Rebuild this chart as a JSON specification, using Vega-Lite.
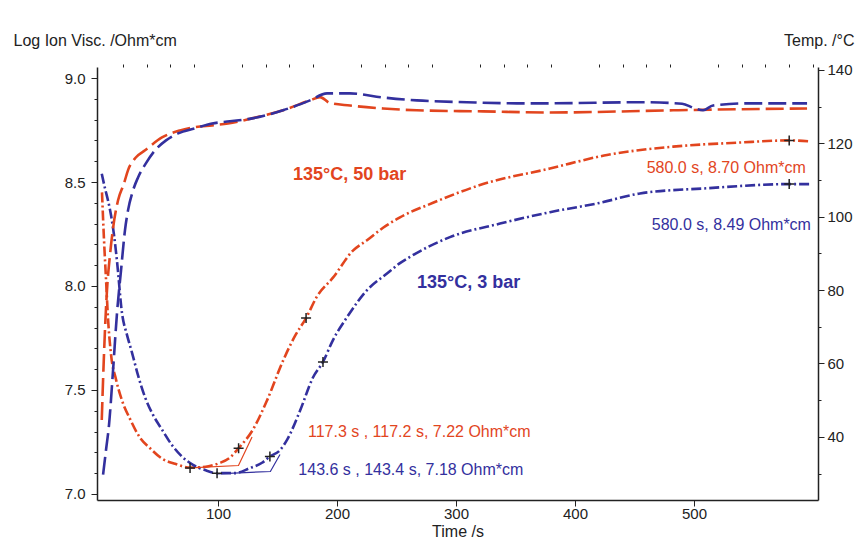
{
  "$schema": "https://vega.github.io/schema/vega-lite/v6.json",
  "width": 721,
  "height": 433,
  "autosize": "none",
  "padding": {"left": 97, "top": 67, "right": 46, "bottom": 47},
  "background": "white",
  "config": {
    "view": {"stroke": null},
    "font": "Liberation Sans",
    "axis": {
      "labelFont": "Liberation Sans", "labelFontSize": 15, "labelColor": "#222",
      "titleFont": "Liberation Sans", "titleFontSize": 16, "titleFontWeight": "normal", "titleColor": "#222",
      "domainColor": "#222", "domainWidth": 1.5, "tickColor": "#222", "tickWidth": 1, "grid": false
    }
  },
  "datasets": {
    "ion": [
      {"s": "50 bar", "t": 2.5, "v": 8.45}, {"s": "50 bar", "t": 4.2, "v": 8.22}, {"s": "50 bar", "t": 5.9, "v": 8.03},
      {"s": "50 bar", "t": 7.6, "v": 7.84}, {"s": "50 bar", "t": 10.1, "v": 7.67}, {"s": "50 bar", "t": 14.3, "v": 7.55},
      {"s": "50 bar", "t": 19.3, "v": 7.45}, {"s": "50 bar", "t": 26.1, "v": 7.36}, {"s": "50 bar", "t": 34.5, "v": 7.27},
      {"s": "50 bar", "t": 42.9, "v": 7.22}, {"s": "50 bar", "t": 52.9, "v": 7.17}, {"s": "50 bar", "t": 63.9, "v": 7.145},
      {"s": "50 bar", "t": 76.5, "v": 7.127}, {"s": "50 bar", "t": 84, "v": 7.128}, {"s": "50 bar", "t": 92, "v": 7.133},
      {"s": "50 bar", "t": 101, "v": 7.148}, {"s": "50 bar", "t": 110, "v": 7.175}, {"s": "50 bar", "t": 117.3, "v": 7.22},
      {"s": "50 bar", "t": 129.4, "v": 7.31}, {"s": "50 bar", "t": 141.2, "v": 7.45}, {"s": "50 bar", "t": 154.6, "v": 7.64},
      {"s": "50 bar", "t": 164.7, "v": 7.76}, {"s": "50 bar", "t": 174, "v": 7.846}, {"s": "50 bar", "t": 183.2, "v": 7.95},
      {"s": "50 bar", "t": 196.6, "v": 8.04}, {"s": "50 bar", "t": 213.4, "v": 8.17}, {"s": "50 bar", "t": 225.2, "v": 8.22},
      {"s": "50 bar", "t": 238.7, "v": 8.28}, {"s": "50 bar", "t": 252.9, "v": 8.33}, {"s": "50 bar", "t": 280.7, "v": 8.40},
      {"s": "50 bar", "t": 322.7, "v": 8.49}, {"s": "50 bar", "t": 379, "v": 8.565}, {"s": "50 bar", "t": 426.9, "v": 8.63},
      {"s": "50 bar", "t": 482.4, "v": 8.67}, {"s": "50 bar", "t": 538.7, "v": 8.69}, {"s": "50 bar", "t": 580, "v": 8.70},
      {"s": "50 bar", "t": 597.5, "v": 8.695},
      {"s": "3 bar", "t": 2.3, "v": 8.54}, {"s": "3 bar", "t": 5, "v": 8.47}, {"s": "3 bar", "t": 7.6, "v": 8.41},
      {"s": "3 bar", "t": 10.1, "v": 8.34}, {"s": "3 bar", "t": 12.6, "v": 8.245}, {"s": "3 bar", "t": 15.1, "v": 8.12},
      {"s": "3 bar", "t": 19.3, "v": 7.87}, {"s": "3 bar", "t": 23.5, "v": 7.765}, {"s": "3 bar", "t": 27.7, "v": 7.68},
      {"s": "3 bar", "t": 32.8, "v": 7.57}, {"s": "3 bar", "t": 38.7, "v": 7.465}, {"s": "3 bar", "t": 45.4, "v": 7.38},
      {"s": "3 bar", "t": 52.9, "v": 7.31}, {"s": "3 bar", "t": 61.3, "v": 7.235}, {"s": "3 bar", "t": 69.7, "v": 7.18},
      {"s": "3 bar", "t": 79, "v": 7.14}, {"s": "3 bar", "t": 89, "v": 7.115}, {"s": "3 bar", "t": 99.2, "v": 7.10},
      {"s": "3 bar", "t": 114.3, "v": 7.10}, {"s": "3 bar", "t": 126.9, "v": 7.125}, {"s": "3 bar", "t": 137, "v": 7.15},
      {"s": "3 bar", "t": 143.6, "v": 7.18}, {"s": "3 bar", "t": 152, "v": 7.21}, {"s": "3 bar", "t": 158, "v": 7.26},
      {"s": "3 bar", "t": 168.9, "v": 7.40}, {"s": "3 bar", "t": 179.8, "v": 7.56}, {"s": "3 bar", "t": 188.2, "v": 7.635},
      {"s": "3 bar", "t": 196.6, "v": 7.74}, {"s": "3 bar", "t": 208.4, "v": 7.85}, {"s": "3 bar", "t": 225.2, "v": 7.98},
      {"s": "3 bar", "t": 242, "v": 8.06}, {"s": "3 bar", "t": 252.9, "v": 8.11}, {"s": "3 bar", "t": 261.3, "v": 8.14},
      {"s": "3 bar", "t": 294.9, "v": 8.235}, {"s": "3 bar", "t": 337, "v": 8.30}, {"s": "3 bar", "t": 379, "v": 8.355},
      {"s": "3 bar", "t": 421, "v": 8.40}, {"s": "3 bar", "t": 454.6, "v": 8.445}, {"s": "3 bar", "t": 510.9, "v": 8.47},
      {"s": "3 bar", "t": 580, "v": 8.49}, {"s": "3 bar", "t": 597.5, "v": 8.49}
    ],
    "temp": [
      {"s": "50 bar", "t": 2.3, "T": 44.6}, {"s": "50 bar", "t": 3.4, "T": 55.5}, {"s": "50 bar", "t": 5, "T": 69.1},
      {"s": "50 bar", "t": 6.7, "T": 80}, {"s": "50 bar", "t": 9.2, "T": 89.5}, {"s": "50 bar", "t": 11.8, "T": 96.9},
      {"s": "50 bar", "t": 16, "T": 104.5}, {"s": "50 bar", "t": 21, "T": 109.1}, {"s": "50 bar", "t": 24.4, "T": 112.7},
      {"s": "50 bar", "t": 31.1, "T": 116.2}, {"s": "50 bar", "t": 38.7, "T": 118.1}, {"s": "50 bar", "t": 52.9, "T": 121.6},
      {"s": "50 bar", "t": 68, "T": 123.5}, {"s": "50 bar", "t": 80.7, "T": 124.4}, {"s": "50 bar", "t": 95, "T": 124.9},
      {"s": "50 bar", "t": 108.4, "T": 125.4}, {"s": "50 bar", "t": 128.6, "T": 126.8}, {"s": "50 bar", "t": 154.6, "T": 129},
      {"s": "50 bar", "t": 177.3, "T": 131.7}, {"s": "50 bar", "t": 185.7, "T": 132.6}, {"s": "50 bar", "t": 194, "T": 131},
      {"s": "50 bar", "t": 210.9, "T": 130.3}, {"s": "50 bar", "t": 238.7, "T": 129.5}, {"s": "50 bar", "t": 267, "T": 129},
      {"s": "50 bar", "t": 322.7, "T": 128.7}, {"s": "50 bar", "t": 379, "T": 128.4}, {"s": "50 bar", "t": 482.4, "T": 129},
      {"s": "50 bar", "t": 538.7, "T": 129.3}, {"s": "50 bar", "t": 595, "T": 129.5},
      {"s": "3 bar", "t": 3.4, "T": 29.7}, {"s": "3 bar", "t": 5.9, "T": 36.5}, {"s": "3 bar", "t": 8.4, "T": 43.3},
      {"s": "3 bar", "t": 11.8, "T": 58.2}, {"s": "3 bar", "t": 15.1, "T": 73.7}, {"s": "3 bar", "t": 18.5, "T": 85.4},
      {"s": "3 bar", "t": 21.8, "T": 96.3}, {"s": "3 bar", "t": 24.4, "T": 101.8}, {"s": "3 bar", "t": 28.6, "T": 107.2},
      {"s": "3 bar", "t": 32.8, "T": 110.7}, {"s": "3 bar", "t": 39.5, "T": 114.6}, {"s": "3 bar", "t": 47.1, "T": 118.1},
      {"s": "3 bar", "t": 56.3, "T": 120.8}, {"s": "3 bar", "t": 66.4, "T": 122.7}, {"s": "3 bar", "t": 80.7, "T": 124.1},
      {"s": "3 bar", "t": 95, "T": 125.4}, {"s": "3 bar", "t": 110, "T": 126}, {"s": "3 bar", "t": 128.6, "T": 126.8},
      {"s": "3 bar", "t": 154.6, "T": 129}, {"s": "3 bar", "t": 177.3, "T": 131.7}, {"s": "3 bar", "t": 191.6, "T": 133.6},
      {"s": "3 bar", "t": 210.9, "T": 133.6}, {"s": "3 bar", "t": 238.7, "T": 132.5}, {"s": "3 bar", "t": 267, "T": 131.7},
      {"s": "3 bar", "t": 309.2, "T": 131.2}, {"s": "3 bar", "t": 351.3, "T": 130.9}, {"s": "3 bar", "t": 379, "T": 130.9},
      {"s": "3 bar", "t": 454.6, "T": 131.2}, {"s": "3 bar", "t": 490, "T": 130.8}, {"s": "3 bar", "t": 500, "T": 129.6},
      {"s": "3 bar", "t": 507.6, "T": 129}, {"s": "3 bar", "t": 516, "T": 130.3}, {"s": "3 bar", "t": 547, "T": 130.9},
      {"s": "3 bar", "t": 595, "T": 130.9}
    ],
    "tangent": [
      {"s": "50 bar", "t": 76.5, "v": 7.125}, {"s": "50 bar", "t": 117.2, "v": 7.137}, {"s": "50 bar", "t": 128.6, "v": 7.274},
      {"s": "3 bar", "t": 99.2, "v": 7.097}, {"s": "3 bar", "t": 144, "v": 7.108}, {"s": "3 bar", "t": 152.1, "v": 7.19}
    ],
    "markers": [
      {"s": "50 bar", "t": 76.5, "v": 7.125}, {"s": "50 bar", "t": 117.3, "v": 7.22}, {"s": "50 bar", "t": 174, "v": 7.846}, {"s": "50 bar", "t": 580, "v": 8.70},
      {"s": "3 bar", "t": 99.2, "v": 7.10}, {"s": "3 bar", "t": 143.6, "v": 7.18}, {"s": "3 bar", "t": 188.2, "v": 7.635}, {"s": "3 bar", "t": 580, "v": 8.49}
    ],
    "notes": [
      {"s": "50 bar", "t": 175.6, "v": 7.2755, "label": "117.3 s , 117.2 s, 7.22 Ohm*cm"},
      {"s": "3 bar", "t": 167.5, "v": 7.091, "label": "143.6 s , 143.4 s, 7.18 Ohm*cm"},
      {"s": "50 bar", "t": 460.2, "v": 8.545, "label": "580.0 s, 8.70 Ohm*cm"},
      {"s": "3 bar", "t": 464.5, "v": 8.269, "label": "580.0 s, 8.49 Ohm*cm"}
    ],
    "conds": [
      {"s": "50 bar", "t": 163, "v": 8.51, "label": "135°C, 50 bar"},
      {"s": "3 bar", "t": 267.2, "v": 7.988, "label": "135°C, 3 bar"}
    ]
  },
  "layer": [
    {
      "data": {"name": "ion"},
      "transform": [{"filter": "datum.s === '50 bar'"}],
      "mark": {"type": "line", "color": "#E2451E", "strokeWidth": 2.6, "strokeDash": [10, 3, 2, 3], "interpolate": "monotone"},
      "encoding": {
        "x": {"field": "t", "type": "quantitative", "scale": {"domain": [-1.7, 604.2], "nice": false, "zero": false},
          "axis": {"values": [100, 200, 300, 400, 500], "title": "Time /s", "tickSize": 6, "labelPadding": 12, "labelBaseline": "alphabetic", "titleY": 36, "titleBaseline": "alphabetic"}},
        "y": {"field": "v", "type": "quantitative", "scale": {"domain": [6.971, 9.053], "nice": false, "zero": false},
          "axis": {"orient": "left", "values": [7, 7.5, 8, 8.5, 9], "format": ".1f", "title": "Log Ion Visc. /Ohm*cm", "titleAngle": 0, "titleAlign": "left", "titleBaseline": "alphabetic", "titleX": -84, "titleY": -22, "tickSize": 6, "labelPadding": 6}}
      }
    },
    {
      "data": {"name": "ion"},
      "transform": [{"filter": "datum.s === '3 bar'"}],
      "mark": {"type": "line", "color": "#33309E", "strokeWidth": 2.6, "strokeDash": [10, 3, 2, 3], "interpolate": "monotone"},
      "encoding": {
        "x": {"field": "t", "type": "quantitative", "scale": {"domain": [-1.7, 604.2], "nice": false, "zero": false},
          "axis": {"values": [20, 40, 60, 80, 120, 140, 160, 180, 220, 240, 260, 280, 320, 340, 360, 380, 420, 440, 460, 480, 520, 540, 560, 580, 600], "labels": false, "tickSize": 3, "domain": false, "title": null}},
        "y": {"field": "v", "type": "quantitative", "scale": {"domain": [6.971, 9.053], "nice": false, "zero": false},
          "axis": {"orient": "left", "values": [7.1, 7.2, 7.3, 7.4, 7.6, 7.7, 7.8, 7.9, 8.1, 8.2, 8.3, 8.4, 8.6, 8.7, 8.8, 8.9], "labels": false, "tickSize": 3, "domain": false, "title": null}}
      }
    },
    {
      "data": {"name": "temp"},
      "transform": [{"filter": "datum.s === '50 bar'"}],
      "mark": {"type": "line", "color": "#E2451E", "strokeWidth": 2.6, "strokeDash": [18, 6], "interpolate": "monotone"},
      "encoding": {
        "x": {"field": "t", "type": "quantitative", "scale": {"domain": [-1.7, 604.2], "nice": false, "zero": false}, "axis": null},
        "y": {"field": "T", "type": "quantitative", "scale": {"domain": [22.8, 140.8], "nice": false, "zero": false},
          "axis": {"orient": "right", "values": [40, 60, 80, 100, 120, 140], "title": "Temp. /°C", "titleAngle": 0, "titleAlign": "right", "titleBaseline": "alphabetic", "titleX": 36, "titleY": -22, "tickSize": 6, "labelPadding": 3}}
      }
    },
    {
      "data": {"name": "temp"},
      "transform": [{"filter": "datum.s === '3 bar'"}],
      "mark": {"type": "line", "color": "#33309E", "strokeWidth": 2.6, "strokeDash": [18, 6], "interpolate": "monotone"},
      "encoding": {
        "x": {"field": "t", "type": "quantitative", "scale": {"domain": [-1.7, 604.2], "nice": false, "zero": false}, "axis": null},
        "y": {"field": "T", "type": "quantitative", "scale": {"domain": [22.8, 140.8], "nice": false, "zero": false},
          "axis": {"orient": "right", "values": [30, 50, 70, 90, 110, 130], "labels": false, "tickSize": 3, "domain": false, "title": null}}
      }
    },
    {
      "data": {"name": "tangent"},
      "mark": {"type": "line", "strokeWidth": 1.2},
      "encoding": {
        "x": {"field": "t", "type": "quantitative", "scale": {"domain": [-1.7, 604.2], "nice": false, "zero": false}, "axis": null},
        "y": {"field": "v", "type": "quantitative", "scale": {"domain": [6.971, 9.053], "nice": false, "zero": false}, "axis": null},
        "color": {"field": "s", "type": "nominal", "scale": {"domain": ["50 bar", "3 bar"], "range": ["#E2451E", "#33309E"]}, "legend": null}
      }
    },
    {
      "data": {"name": "markers"},
      "mark": {"type": "point", "shape": "M-1,0L1,0M0,-1L0,1", "filled": false, "stroke": "#222", "strokeWidth": 1.5, "size": 100, "opacity": 1},
      "encoding": {
        "x": {"field": "t", "type": "quantitative", "scale": {"domain": [-1.7, 604.2], "nice": false, "zero": false}, "axis": null},
        "y": {"field": "v", "type": "quantitative", "scale": {"domain": [6.971, 9.053], "nice": false, "zero": false}, "axis": null}
      }
    },
    {
      "data": {"name": "notes"},
      "mark": {"type": "text", "font": "Liberation Sans", "fontSize": 16, "align": "left", "baseline": "alphabetic"},
      "encoding": {
        "x": {"field": "t", "type": "quantitative", "scale": {"domain": [-1.7, 604.2], "nice": false, "zero": false}, "axis": null},
        "y": {"field": "v", "type": "quantitative", "scale": {"domain": [6.971, 9.053], "nice": false, "zero": false}, "axis": null},
        "text": {"field": "label"},
        "color": {"field": "s", "type": "nominal", "scale": {"domain": ["50 bar", "3 bar"], "range": ["#E2451E", "#33309E"]}, "legend": null}
      }
    },
    {
      "data": {"name": "conds"},
      "mark": {"type": "text", "font": "Liberation Sans", "fontSize": 18, "fontWeight": "bold", "align": "left", "baseline": "alphabetic"},
      "encoding": {
        "x": {"field": "t", "type": "quantitative", "scale": {"domain": [-1.7, 604.2], "nice": false, "zero": false}, "axis": null},
        "y": {"field": "v", "type": "quantitative", "scale": {"domain": [6.971, 9.053], "nice": false, "zero": false}, "axis": null},
        "text": {"field": "label"},
        "color": {"field": "s", "type": "nominal", "scale": {"domain": ["50 bar", "3 bar"], "range": ["#E2451E", "#33309E"]}, "legend": null}
      }
    }
  ],
  "resolve": {"scale": {"y": "independent"}, "axis": {"x": "independent", "y": "independent"}}
}
